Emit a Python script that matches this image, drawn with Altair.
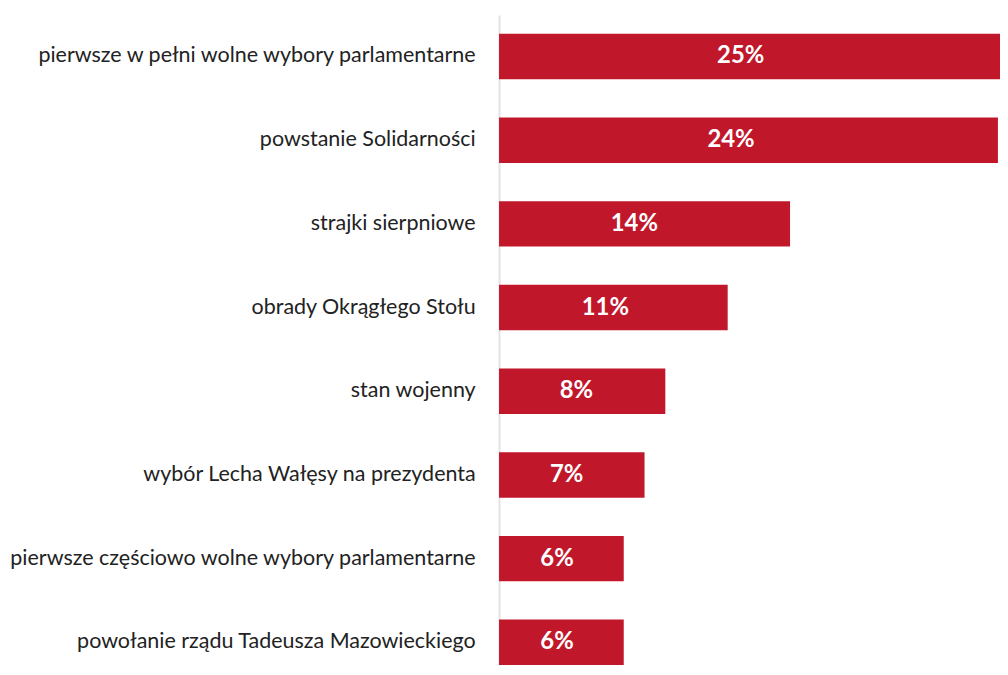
import altair as alt
import pandas as pd

categories = [
    "pierwsze w pełni wolne wybory parlamentarne",
    "powstanie Solidarności",
    "strajki sierpniowe",
    "obrady Okrągłego Stołu",
    "stan wojenny",
    "wybór Lecha Wałęsy na prezydenta",
    "pierwsze częściowo wolne wybory parlamentarne",
    "powołanie rządu Tadeusza Mazowieckiego",
]
values = [25, 24, 14, 11, 8, 7, 6, 6]
labels = ["25%", "24%", "14%", "11%", "8%", "7%", "6%", "6%"]

df = pd.DataFrame({"cat": categories, "value": values, "label": labels})

yscale = alt.Scale(paddingInner=0.457, paddingOuter=0.1125, align=1)
xscale = alt.Scale(domain=[0, 24.1])

y = alt.Y(
    "cat:N",
    sort=categories,
    title=None,
    scale=yscale,
    axis=alt.Axis(
        ticks=False,
        domain=True,
        domainColor="#e3e3e3",
        domainWidth=2,
        labelFont="Lato",
        labelFontSize=21.6,
        labelColor="#222222",
        labelPadding=24,
        labelLimit=0,
        minExtent=488,
        maxExtent=488,
        grid=False,
    ),
)

bars = alt.Chart(df).mark_bar(color="#c1172b", clip=True).encode(
    x=alt.X("value:Q", scale=xscale, axis=None),
    y=y,
)

text = alt.Chart(df).transform_calculate(
    pos="datum.value * 0.465"
).mark_text(
    color="white", font="Lato", fontWeight="bold", fontSize=24, align="center", baseline="middle"
).encode(
    x=alt.X("pos:Q", scale=xscale, axis=None),
    y=alt.Y("cat:N", sort=categories, scale=yscale),
    text="label:N",
)

chart = (
    alt.layer(bars, text)
    .properties(width=504, height=654, padding={"left": 0, "top": 5, "right": 0, "bottom": 0})
    .configure_view(stroke=None)
)

chart.save("out.html", embed_options={"renderer": "svg", "actions": False})
